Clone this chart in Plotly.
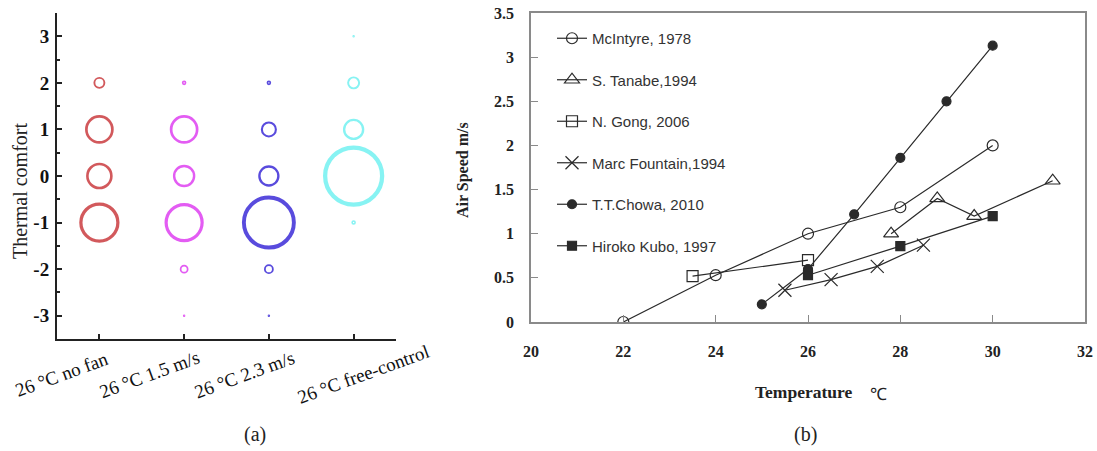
import plotly.graph_objects as go

# ---- panel (a): thermal comfort votes (percent of votes per level) ----
categories = ["26 °C no fan", "26 °C 1.5 m/s", "26 °C 2.3 m/s", "26 °C free-control"]
comfort_levels = [3, 2, 1, 0, -1, -2, -3]
comfort_labels = ["3", "2", "1", "0", "-1", "-2", "-3"]
votes_no_fan = [0, 10, 26, 24, 37, 0, 0]
votes_fan_15 = [0, 3, 26, 20, 36, 7, 1]
votes_fan_23 = [0, 3, 14, 19, 50, 8, 1]
votes_free = [1, 11, 19, 57, 3, 0, 0]

# ---- panel (b): air speed vs temperature from literature ----
mcintyre_t = [22, 24, 26, 28, 30]
mcintyre_v = [0.0, 0.53, 1.0, 1.3, 2.0]
tanabe_t = [27.8, 28.8, 29.6, 31.3]
tanabe_v = [1.0, 1.4, 1.2, 1.6]
gong_t = [23.5, 26]
gong_v = [0.52, 0.70]
fountain_t = [25.5, 26.5, 27.5, 28.5]
fountain_v = [0.36, 0.48, 0.63, 0.87]
chowa_t = [25, 26, 27, 28, 29, 30]
chowa_v = [0.2, 0.6, 1.22, 1.86, 2.5, 3.13]
kubo_t = [26, 28, 30]
kubo_v = [0.53, 0.86, 1.2]

W, H = 1097, 451
SERIF = "Liberation Serif, Times New Roman, serif"
SANS = "Liberation Sans, Arial, sans-serif"

fig = go.Figure()

bubble_colors = ["#C01418", "#D818EE", "#1400D0", "#55EEEE"]
vote_sets = [votes_no_fan, votes_fan_15, votes_fan_23, votes_free]
for i, (votes, col) in enumerate(zip(vote_sets, bubble_colors)):
    ys = [lv for lv, v in zip(comfort_levels, votes) if v > 0]
    vs = [v for v in votes if v > 0]
    fig.add_trace(go.Scatter(
        x=[i] * len(vs), y=ys, mode="markers", xaxis="x", yaxis="y",
        showlegend=False, hoverinfo="skip",
        marker=dict(size=vs, sizemode="diameter", sizeref=1,
                    color="rgba(0,0,0,0)",
                    line=dict(color=col, width=[1.4 + v / 20 for v in vs])),
    ))

line_col = "#2a2a2a"
series = [
    ("McIntyre, 1978", mcintyre_t, mcintyre_v, dict(symbol="circle-open", size=11)),
    ("S. Tanabe,1994", tanabe_t, tanabe_v, dict(symbol="triangle-up-open", size=13)),
    ("N. Gong, 2006", gong_t, gong_v, dict(symbol="square-open", size=11)),
    ("Marc Fountain,1994", fountain_t, fountain_v, dict(symbol="x-thin-open", size=13)),
    ("T.T.Chowa, 2010", chowa_t, chowa_v, dict(symbol="circle", size=9)),
    ("Hiroko Kubo, 1997", kubo_t, kubo_v, dict(symbol="square", size=9)),
]
for k, (name, t, v, mk) in enumerate(series):
    fig.add_trace(go.Scatter(
        x=t, y=v, name=name, mode="lines+markers", xaxis="x2", yaxis="y2",
        legendgroup=f"g{k}",
        line=dict(color=line_col, width=1.2),
        marker=dict(color=line_col, line=dict(color=line_col, width=1.2), **mk),
    ))

def px_x(p):
    return p / W

def px_y(p):
    return 1 - p / H

def label(text, x, y, size, family=SERIF, angle=0, weight="normal"):
    return dict(text=text, x=px_x(x), y=px_y(y), xref="paper", yref="paper",
                xanchor="center", yanchor="middle", textangle=angle, showarrow=False,
                font=dict(family=family, size=size, color="#222", weight=weight))

# category names under panel (a), slanted; offsets (px) from each tick
cat_shift = [-38, -35, -24, 9]
cat_annots = [
    dict(text=c, x=i, xref="x", y=px_y(374), yref="paper", xshift=s,
         xanchor="center", yanchor="middle", textangle=-20, showarrow=False,
         font=dict(family=SERIF, size=19, color="#111"))
    for i, (c, s) in enumerate(zip(categories, cat_shift))
]

fig.update_layout(
    width=W, height=H, margin=dict(l=0, r=0, t=0, b=0, autoexpand=False),
    paper_bgcolor="white", plot_bgcolor="white",
    xaxis=dict(domain=[px_x(57), px_x(396)], range=[-0.5, 3.5], anchor="y",
               tickvals=[0, 1, 2, 3], showticklabels=False,
               showline=True, linecolor="#222", linewidth=2, layer="above traces",
               ticks="inside", ticklen=5, tickwidth=2, tickcolor="#222",
               showgrid=False, zeroline=False, automargin=False),
    yaxis=dict(domain=[px_y(339), px_y(13)], range=[-3.5, 3.5], anchor="x",
               tickvals=comfort_levels, ticktext=comfort_labels,
               showline=True, linecolor="#222", linewidth=2,
               ticks="inside", ticklen=5, tickwidth=2, tickcolor="#222",
               minor=dict(ticks="inside", ticklen=3, tickwidth=1.5, tickcolor="#222", dtick=0.5),
               showgrid=False, zeroline=False, automargin=False, ticklabelstandoff=2,
               tickfont=dict(family=SERIF, size=19, color="#111", weight="bold")),
    xaxis2=dict(domain=[px_x(531), px_x(1085)], range=[20, 32], anchor="y2",
                dtick=2, showline=True, mirror=True, linecolor="#8a8a8a", linewidth=1.5,
                ticks="inside", ticklen=7, tickcolor="#8a8a8a",
                showgrid=False, zeroline=False, ticklabelstandoff=14, automargin=False,
                tickfont=dict(family=SERIF, size=16, color="#222", weight="bold")),
    yaxis2=dict(domain=[px_y(322), px_y(13)], range=[0, 3.5], anchor="x2",
                dtick=0.5, showline=True, mirror=True, linecolor="#8a8a8a", linewidth=1.5,
                ticks="inside", ticklen=7, tickcolor="#8a8a8a",
                showgrid=False, zeroline=False, ticklabelstandoff=12, automargin=False,
                tickfont=dict(family=SERIF, size=16, color="#222", weight="bold")),
    legend=dict(x=px_x(552), y=px_y(22), xanchor="left", yanchor="top",
                bgcolor="rgba(0,0,0,0)", borderwidth=0, tracegroupgap=19,
                font=dict(family=SANS, size=15, color="#333")),
    annotations=cat_annots + [
        label("Thermal comfort", 20, 191, 20, angle=-90),
        label("(a)", 255, 434, 20),
        label("Air Speed m/s", 463, 170, 16, angle=-90, weight="bold"),
        label("Temperature", 803, 392, 17.5, weight="bold"),
        label("℃", 878, 394, 17, family=SANS),
        label("(b)", 805, 434, 20),
    ],
)

fig.write_html("out.html")
